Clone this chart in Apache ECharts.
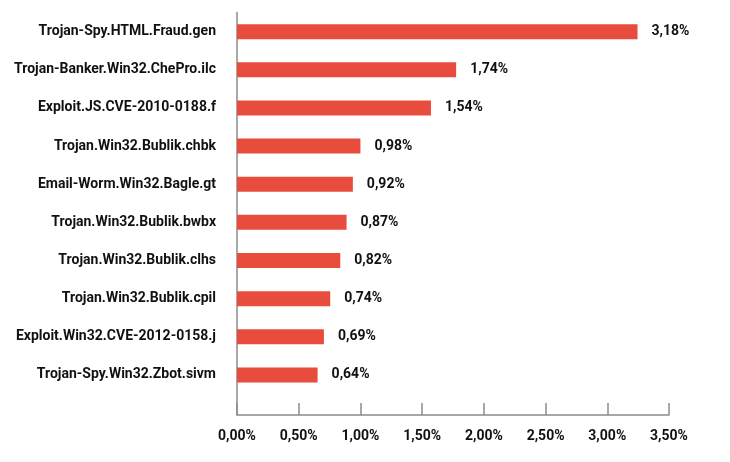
<!DOCTYPE html>
<html>
<head>
<meta charset="utf-8">
<script src="https://cdn.jsdelivr.net/npm/echarts@6/dist/echarts.min.js"></script>
<style>
  html, body { margin: 0; padding: 0; background: #fff; }
  #chart { width: 730px; height: 462px; }
</style>
</head>
<body>
<div id="chart"></div>
<script>
// названия угроз и их доли, %
var categories = [
    'Trojan-Spy.HTML.Fraud.gen',
    'Trojan-Banker.Win32.ChePro.ilc',
    'Exploit.JS.CVE-2010-0188.f',
    'Trojan.Win32.Bublik.chbk',
    'Email-Worm.Win32.Bagle.gt',
    'Trojan.Win32.Bublik.bwbx',
    'Trojan.Win32.Bublik.clhs',
    'Trojan.Win32.Bublik.cpil',
    'Exploit.Win32.CVE-2012-0158.j',
    'Trojan-Spy.Win32.Zbot.sivm'
];
var values = [3.18, 1.74, 1.54, 0.98, 0.92, 0.87, 0.82, 0.74, 0.69, 0.64];
var xTicks = [0, 0.5, 1, 1.5, 2, 2.5, 3, 3.5];

var font = 'Roboto, "Liberation Sans", sans-serif';
var axisColor = '#8c8c8c';

function pct(v) {
    return v.toFixed(2).replace('.', ',') + '%';
}

var chart = echarts.init(document.getElementById('chart'));

var option = {
    animation: false,
    grid: [
        // полосы
        { left: 237, right: 61, top: 12.6, bottom: 68, outerBoundsMode: 'none' },
        // рамка с осью X
        { left: 237, right: 61, top: 12.6, bottom: 47, outerBoundsMode: 'none' }
    ],
    xAxis: [
        {
            gridIndex: 0,
            type: 'value',
            min: 0,
            max: 3.43,
            show: false
        },
        {
            gridIndex: 1,
            type: 'value',
            min: xTicks[0],
            max: xTicks[xTicks.length - 1],
            interval: 0.5,
            axisLine: { show: true, lineStyle: { color: axisColor, width: 1.5 } },
            axisTick: { show: true, inside: true, length: 12, lineStyle: { color: axisColor, width: 1.5 } },
            splitLine: { show: false },
            axisLabel: {
                margin: 14,
                color: '#111',
                fontFamily: font,
                fontWeight: 'bold',
                fontSize: 14,
                formatter: pct
            }
        }
    ],
    yAxis: [
        {
            gridIndex: 0,
            type: 'category',
            inverse: true,
            data: categories,
            axisLine: { show: false },
            axisTick: { show: false },
            axisLabel: {
                margin: 21,
                color: '#111',
                fontFamily: font,
                fontWeight: 'bold',
                fontSize: 14
            }
        },
        {
            gridIndex: 1,
            type: 'value',
            axisLine: { show: true, lineStyle: { color: axisColor, width: 1.5 } },
            axisTick: { show: false },
            axisLabel: { show: false },
            splitLine: { show: false }
        }
    ],
    series: [{
        type: 'bar',
        xAxisIndex: 0,
        yAxisIndex: 0,
        data: values,
        barWidth: 15,
        itemStyle: { color: '#e84c3d' },
        label: {
            show: true,
            position: 'right',
            distance: 14,
            color: '#111',
            fontFamily: font,
            fontWeight: 'bold',
            fontSize: 14,
            formatter: function (p) { return pct(p.value); }
        }
    }]
};

chart.setOption(option);
</script>
</body>
</html>
